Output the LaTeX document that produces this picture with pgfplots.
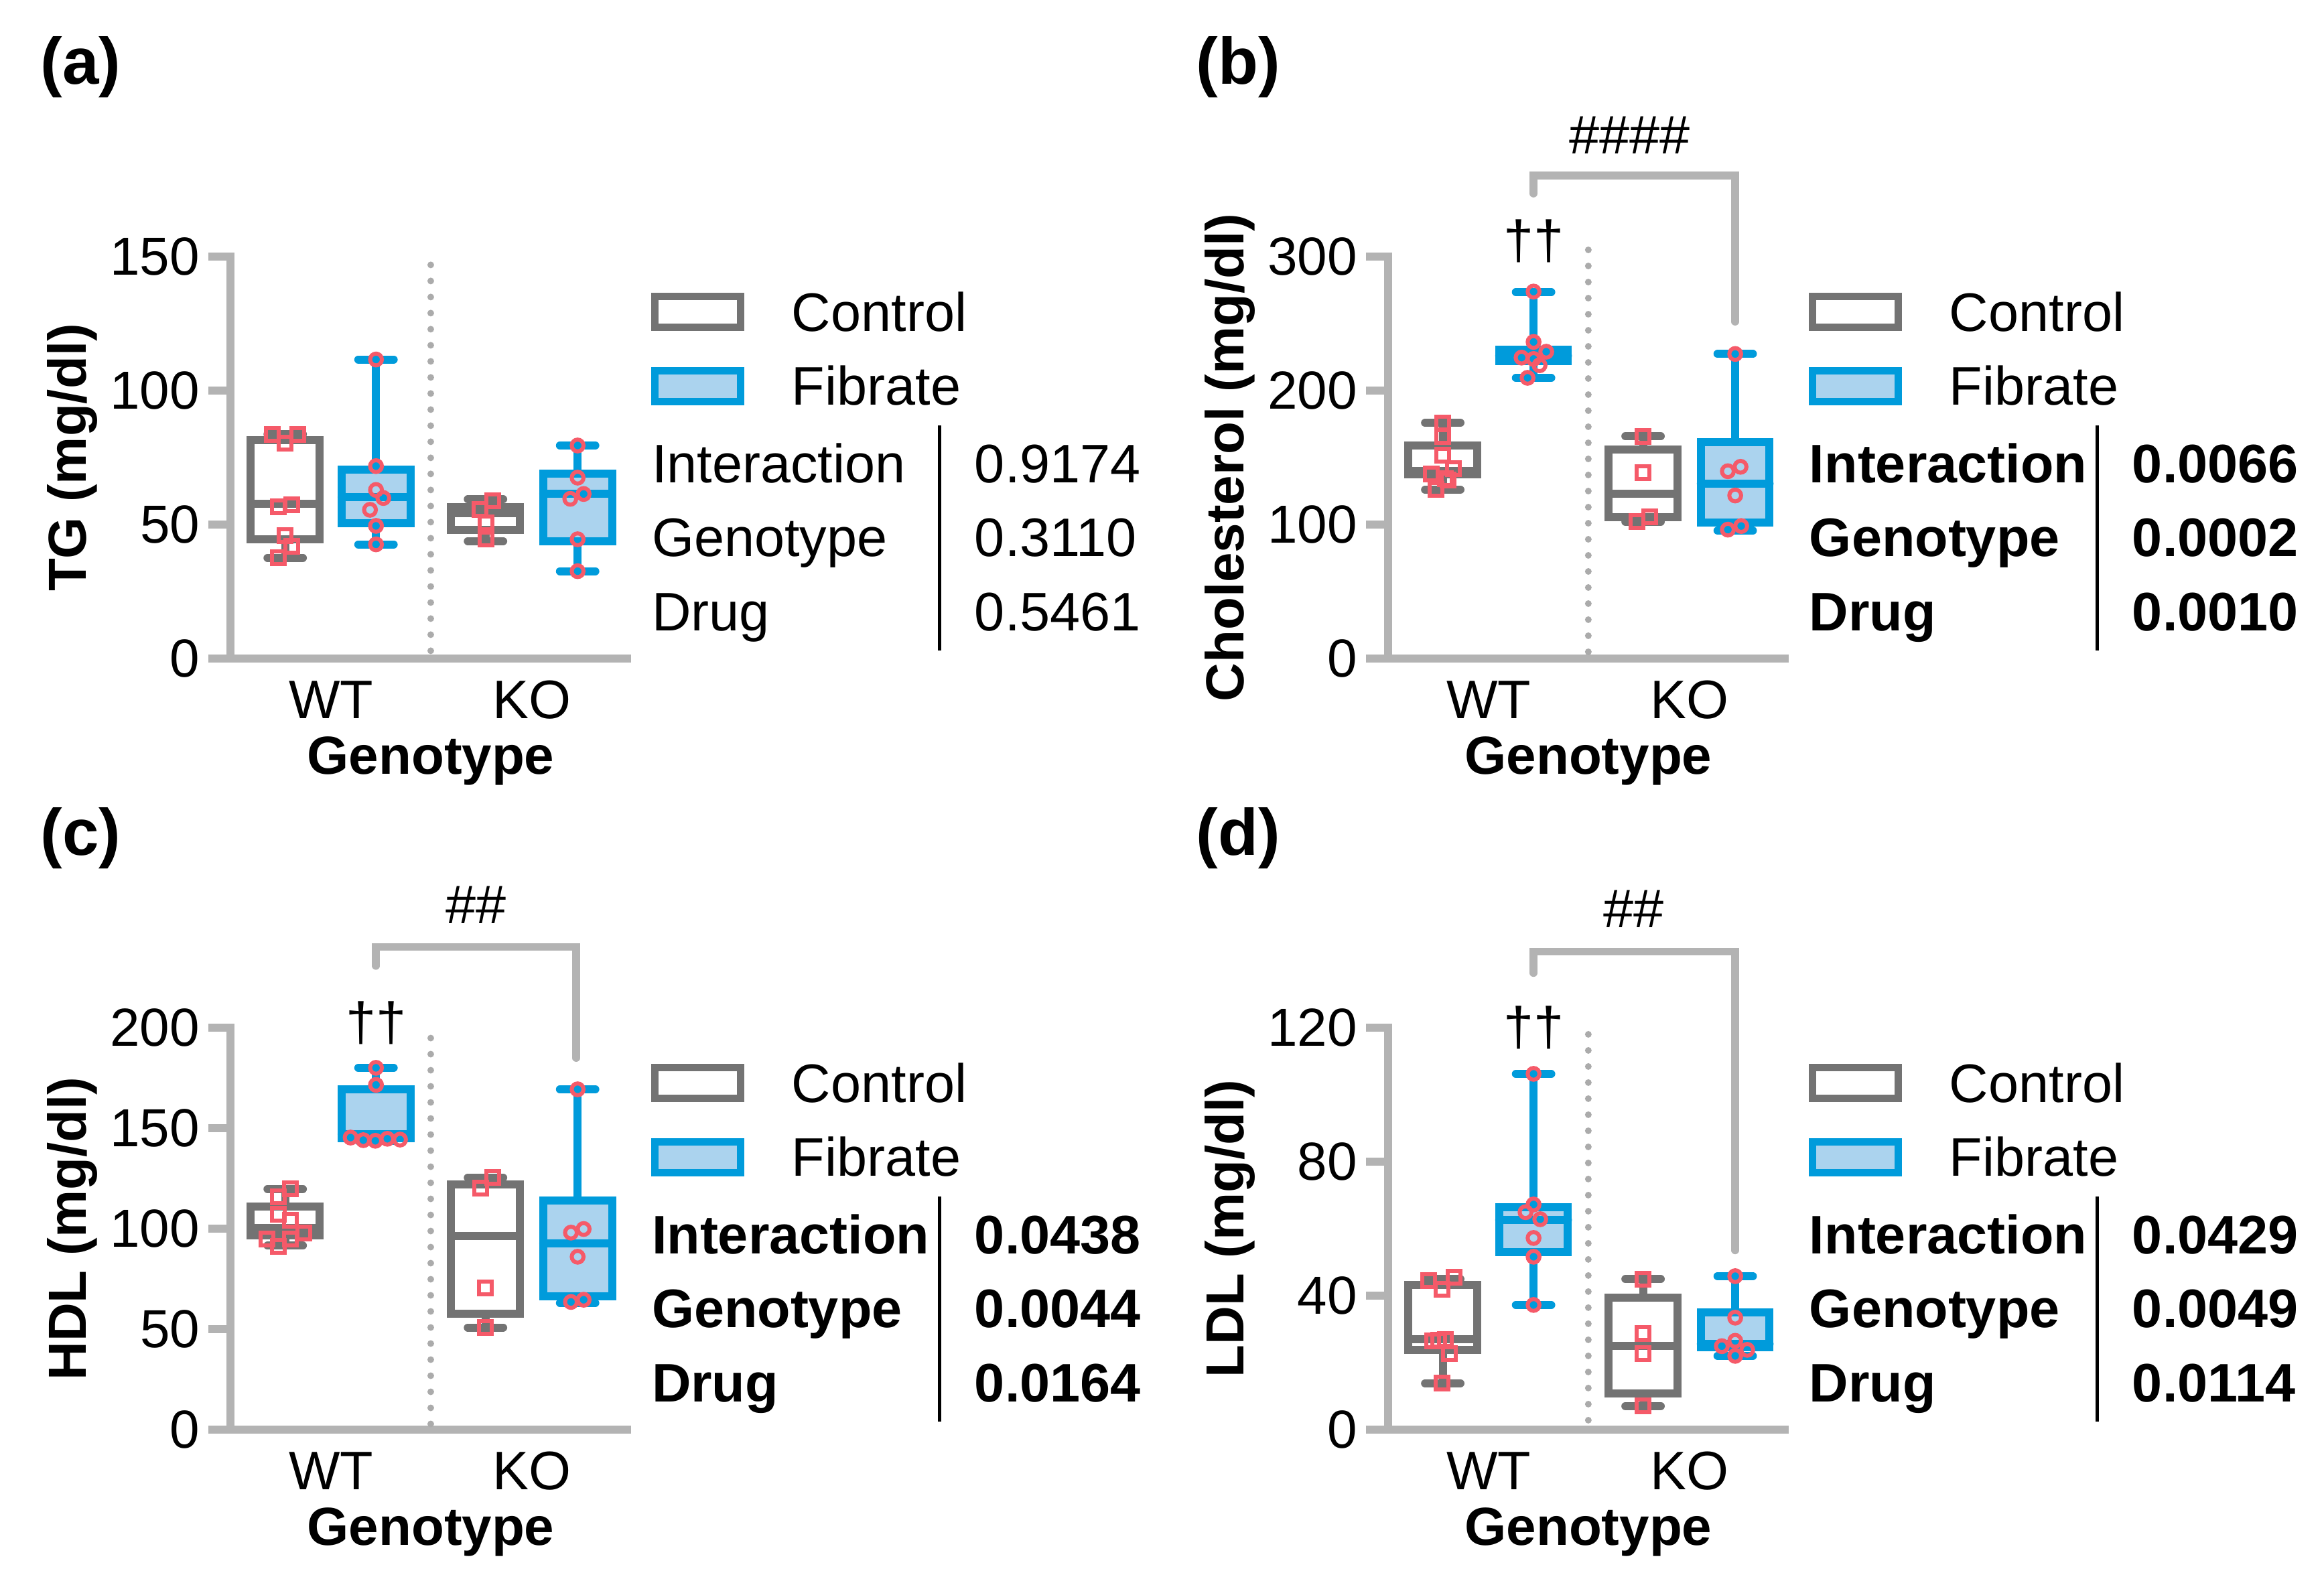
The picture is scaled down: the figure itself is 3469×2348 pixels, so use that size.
\documentclass[border=0pt]{standalone}
\usepackage{fontspec}
\setmainfont{Liberation Sans}
\usepackage{pgfplots}
\pgfplotsset{compat=1.18}
\usepgfplotslibrary{statistics}

\definecolor{boxgray}{HTML}{737373}
\definecolor{fblue}{HTML}{009BDB}
\definecolor{lblue}{HTML}{ABD3EE}
\definecolor{mred}{HTML}{F55A69}
\definecolor{axgray}{HTML}{B3B3B3}
\definecolor{dotgray}{HTML}{ABABAB}

\newcommand{\fa}{\fontsize{8.1}{9.7}\selectfont}
\newcommand{\ft}{\fontsize{8}{9.6}\selectfont}

\pgfplotsset{
  panel/.style={
    scale only axis, width=59.8pt, height=60pt, anchor=south west,
    xmin=0, xmax=6, ymin=0, clip=false,
    axis lines=left, axis line style={draw=none},
    xtick=\empty, tick align=outside, major tick length=3.3pt,
    y tick style={draw=axgray, line width=1.15pt},
    yticklabel style={font=\ft, inner sep=1.1pt},
    /pgf/number format/assume math mode=true,
    boxplot/draw direction=y,
  },
  ctrl/.style={draw=boxgray, fill=white, line width=1.2pt, line cap=round},
  fib/.style={draw=fblue, fill=lblue, line width=1.2pt, line cap=round},
  sq/.style={only marks, mark=square, mark size=0.95pt, color=mred, mark options={line width=0.6pt}},
  ci/.style={only marks, mark=o, mark size=0.88pt, color=mred, mark options={line width=0.6pt}},
  bracket/.style={axgray, line width=1.15pt, line cap=round},
  divider/.style={dotgray, line width=1pt, line cap=round, dash pattern=on 0pt off 2.4pt},
}

% box from prepared stats: style, position, lower whisker, q1, median, q3, upper whisker
\newcommand{\bx}[7]{\addplot[#1, boxplot prepared={draw direction=y, draw position=#2,
  lower whisker=#3, lower quartile=#4, median=#5, upper quartile=#6, upper whisker=#7,
  box extend=1.03, whisker extend=0.53}] coordinates {};}

\newcommand{\axlines}{%
  \draw[axgray, line width=1.15pt] ([xshift=-3.3pt]rel axis cs:0,0) -- (rel axis cs:1,0);
  \draw[axgray, line width=1.15pt, line cap=rect] (rel axis cs:0,0) -- (rel axis cs:0,1);}

% legend, stats and labels around one panel; shift = axis top left corner
\newcommand{\extras}[8]{%
\begin{scope}[shift={(#1,#2)}]
  \node[font=\fontsize{9.8}{11}\selectfont\bfseries] at (-223.5,-283) {#4};
  \node[rotate=90, font=\ft\bfseries] at (-236,300) {#5};
  \node[anchor=base, inner sep=0pt, font=\fa] at (150,689) {WT};
  \node[anchor=base, inner sep=0pt, font=\fa] at (450,689) {KO};
  \node[anchor=base, inner sep=0pt, font=\ft\bfseries] at (299,772) {Genotype};
  \draw[boxgray, line width=1.1pt, fill=white] (633.5,59) rectangle (761.5,105.5);
  \draw[fblue, line width=1.1pt, fill=lblue] (633.5,170.5) rectangle (761.5,216.5);
  \node[anchor=base west, inner sep=0pt, font=\fa] at (836,111) {Control};
  \node[anchor=base west, inner sep=0pt, font=\fa] at (836,221.6) {Fibrate};
  \node[anchor=base west, inner sep=0pt, font=\fa#3] at (627,337) {Interaction};
  \node[anchor=base west, inner sep=0pt, font=\fa#3] at (627,447) {Genotype};
  \node[anchor=base west, inner sep=0pt, font=\fa#3] at (627,558) {Drug};
  \draw[black, line width=0.5pt] (1059,252) -- (1059,588);
  \node[anchor=base west, inner sep=0pt, font=\fa#3] at (1109,337) {#6};
  \node[anchor=base west, inner sep=0pt, font=\fa#3] at (1109,447) {#7};
  \node[anchor=base west, inner sep=0pt, font=\fa#3] at (1109,558) {#8};
\end{scope}}

\begin{document}
\begin{tikzpicture}
\begin{scope}[x=0.1pt, y=-0.1pt]
  \path (0,0) rectangle (3469,2348);
  \extras{344}{383}{\mdseries}{(a)}{TG (mg/dl)}{0.9174}{0.3110}{0.5461}
  \extras{2072}{383}{\bfseries}{(b)}{Cholesterol (mg/dl)}{0.0066}{0.0002}{0.0010}
  \extras{344}{1534}{\bfseries}{(c)}{HDL (mg/dl)}{0.0438}{0.0044}{0.0164}
  \extras{2072}{1534}{\bfseries}{(d)}{LDL (mg/dl)}{0.0429}{0.0049}{0.0114}
\end{scope}

% (a) TG
\begin{axis}[panel, at={(34.4pt,-98.3pt)}, ymax=150, ytick={0,50,100,150}]
  \axlines
  \addplot[divider] coordinates {(3,2.9) (3,152.8)};
  \bx{ctrl}{0.82}{37.6}{44.5}{57.8}{81.5}{83.7}
  \bx{fib}{2.18}{42.6}{50.5}{60.3}{70.5}{111.6}
  \bx{ctrl}{3.82}{43.8}{48.1}{54.3}{56.6}{59.4}
  \bx{fib}{5.2}{32.6}{43.8}{61.4}{68.9}{79.5}
  \addplot[sq] coordinates {(0.63,83.7) (1.01,83.7) (0.82,80.4) (0.72,56.7) (0.92,57.4) (0.82,45.9) (0.92,41.9) (0.72,37.6)};
  \addplot[sq] coordinates {(3.93,58.8) (3.74,55.5) (3.83,50.5) (3.83,44.5)};
  \addplot[ci] coordinates {(2.18,111.6) (2.18,71.8) (2.18,62.9) (2.29,59.9) (2.09,55.5) (2.18,49.5) (2.18,42.6)};
  \addplot[ci] coordinates {(5.2,79.5) (5.2,67.5) (5.09,59.6) (5.29,61.4) (5.2,44.5) (5.2,32.6)};
\end{axis}

% (b) Cholesterol
\begin{axis}[panel, at={(207.2pt,-98.3pt)}, ymax=300, ytick={0,100,200,300}]
  \axlines
  \addplot[divider] coordinates {(3,5) (3,306.5)};
  \bx{ctrl}{0.82}{126}{137.4}{140}{158.9}{175.9}
  \bx{fib}{2.18}{209.5}{222}{226}{230.5}{273.5}
  \bx{ctrl}{3.82}{102.2}{105.6}{123}{155.9}{165.9}
  \bx{fib}{5.2}{95.5}{101.6}{130.7}{161.6}{227.3}
  \addplot[sq] coordinates {(0.82,175.9) (0.82,165.9) (0.82,151.9) (0.65,137.9) (0.98,141.9) (0.86,134.4) (0.9,133.4) (0.72,126)};
  \addplot[sq] coordinates {(3.82,165.9) (3.82,138.5) (3.73,102.2) (3.92,105.6)};
  \addplot[ci] coordinates {(2.18,273.9) (2.18,236.3) (2.0,224.6) (2.18,223.6) (2.37,229) (2.27,218.9) (2.09,209.5)};
  \addplot[ci] coordinates {(5.2,227.3) (5.09,139.8) (5.28,143.1) (5.2,121.7) (5.09,96.2) (5.29,98.9)};
  \addplot[bracket] coordinates {(2.18,347) (2.18,360.4) (5.2,360.4) (5.2,251.4)};
  \node[font=\fa] at (axis cs:3.62,390.5) {\#\#\#\#};
  \node[font=\fa] at (axis cs:2.18,311.8) {††};
\end{axis}

% (c) HDL
\begin{axis}[panel, at={(34.4pt,-213.4pt)}, ymax=200, ytick={0,50,100,150,200}]
  \axlines
  \addplot[divider] coordinates {(3,2.8) (3,195.7)};
  \bx{ctrl}{0.82}{91.5}{96.7}{100.3}{111}{119.7}
  \bx{fib}{2.18}{143.7}{145}{147}{169.3}{180}
  \bx{ctrl}{3.82}{50.8}{57.5}{96.4}{122}{125.4}
  \bx{fib}{5.2}{63}{66.4}{92.7}{114}{169.3}
  \addplot[sq] coordinates {(0.9,119.7) (0.72,115.7) (0.72,107) (0.9,104) (1.1,97.7) (0.55,94.7) (0.9,94.7) (0.72,91.3)};
  \addplot[sq] coordinates {(3.93,125.4) (3.75,120.3) (3.82,70.4) (3.82,50.8)};
  \addplot[ci] coordinates {(2.18,180) (2.18,171.5) (1.8,145.3) (1.99,144) (2.17,143.7) (2.35,144.7) (2.54,144.3)};
  \addplot[ci] coordinates {(5.2,169.3) (5.1,98) (5.29,99.8) (5.2,86) (5.1,63.5) (5.29,64.6)};
  \addplot[bracket] coordinates {(2.18,230.7) (2.18,240.1) (5.18,240.1) (5.18,184.9)};
  \node[font=\fa] at (axis cs:3.68,261.2) {\#\#};
  \node[font=\fa] at (axis cs:2.18,202.2) {††};
\end{axis}

% (d) LDL
\begin{axis}[panel, at={(207.2pt,-213.4pt)}, ymax=120, ytick={0,40,80,120}]
  \axlines
  \addplot[divider] coordinates {(3,2.8) (3,118)};
  \bx{ctrl}{0.82}{13.8}{23.8}{27}{43.2}{44.9}
  \bx{fib}{2.18}{37.2}{52.9}{62.5}{66.3}{106.2}
  \bx{ctrl}{3.82}{7}{10.7}{24.9}{39.4}{44.9}
  \bx{fib}{5.2}{22}{24.5}{25.5}{35}{45.8}
  \addplot[sq] coordinates {(0.61,44.5) (0.99,45.4) (0.81,41.8) (0.67,26.5) (0.76,26.7) (0.86,26.9) (0.92,22.7) (0.81,13.8)};
  \addplot[sq] coordinates {(3.82,44.9) (3.82,28.7) (3.82,22.7) (3.82,7)};
  \addplot[ci] coordinates {(2.18,106.2) (2.18,67.2) (2.06,64.9) (2.28,62.8) (2.18,57.2) (2.18,51.6) (2.18,37.2)};
  \addplot[ci] coordinates {(5.2,45.8) (5.2,33.4) (5.0,24.9) (5.2,26.5) (5.38,23.8) (5.2,22)};
  \addplot[bracket] coordinates {(2.18,136.3) (2.18,142.7) (5.2,142.7) (5.2,53.5)};
  \node[font=\fa] at (axis cs:3.68,155.4) {\#\#};
  \node[font=\fa] at (axis cs:2.18,120) {††};
\end{axis}
\end{tikzpicture}
\end{document}
